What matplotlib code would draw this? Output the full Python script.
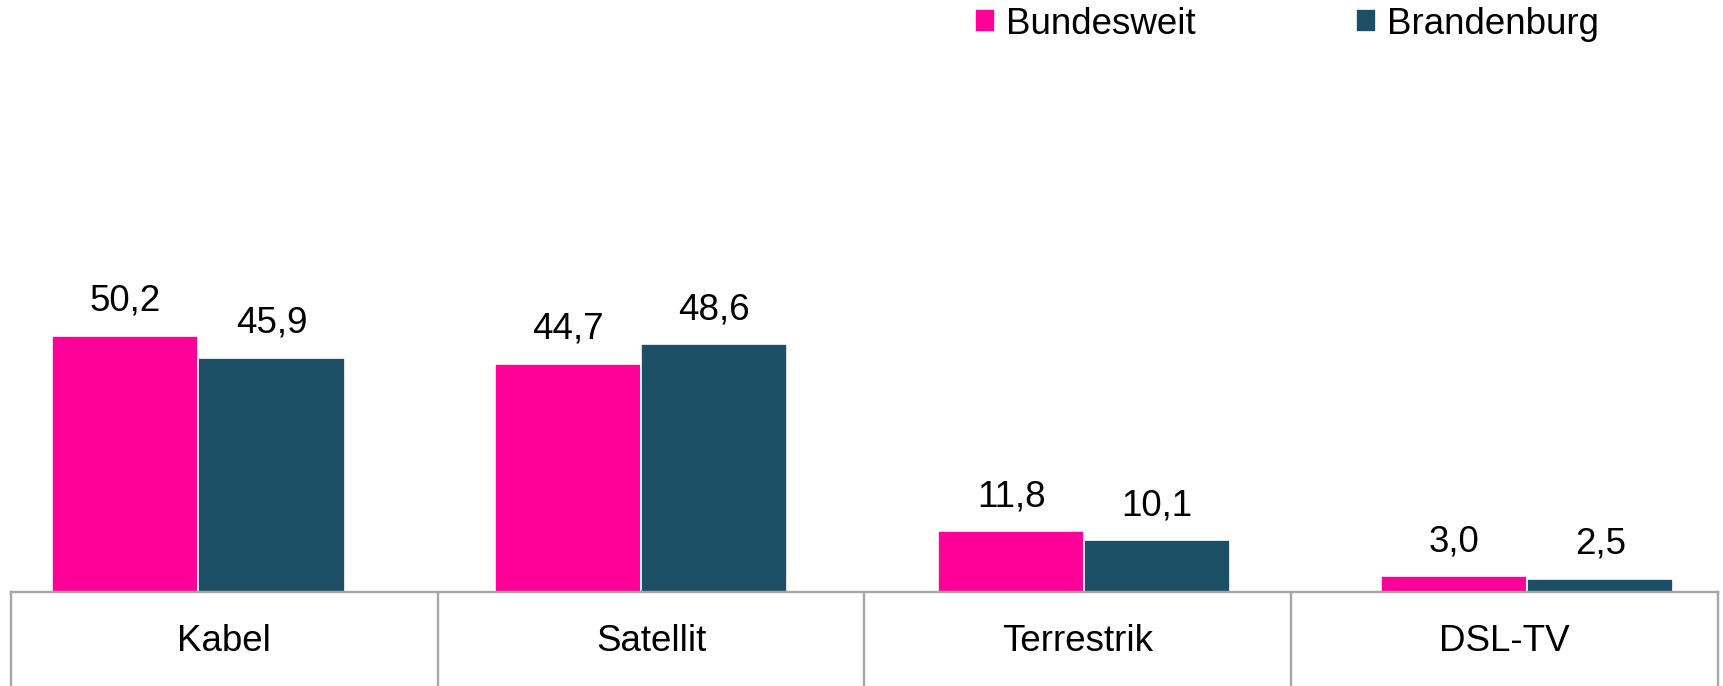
import matplotlib.pyplot as plt
import numpy as np

plt.rcParams["font.family"] = ["Liberation Sans", "DejaVu Sans"]

categories = ["Kabel", "Satellit", "Terrestrik", "DSL-TV"]
bundesweit = [50.2, 44.7, 11.8, 3.0]
brandenburg = [45.9, 48.6, 10.1, 2.5]
series_names = ["Bundesweit", "Brandenburg"]

PINK = "#ff0099"
TEAL = "#1c4f66"
GRID = "#a6a6a6"
FS = 26.5

W, H = 1724, 686
fig = plt.figure(figsize=(W / 100, H / 100), dpi=100)

# plot area in pixels (from top-left)
left_px, right_px = 11, 1718
base_px, top_px = 591.5, 60
ax = fig.add_axes([left_px / W, 1 - base_px / H,
                   (right_px - left_px) / W, (base_px - top_px) / H])

x = np.arange(len(categories))
bw = 0.33
b1 = ax.bar(x - bw / 2, bundesweit, bw, color=PINK, edgecolor="white",
            linewidth=1.2, label=series_names[0])
b2 = ax.bar(x + bw / 2, brandenburg, bw, color=TEAL, edgecolor="white",
            linewidth=1.2, label=series_names[1])

for bars, vals in ((b1, bundesweit), (b2, brandenburg)):
    for rect, v in zip(bars, vals):
        ax.annotate(f"{v:.1f}".replace(".", ","),
                    xy=(rect.get_x() + rect.get_width() / 2, v),
                    xytext=(0, 18), textcoords="offset points",
                    ha="center", va="baseline", fontsize=FS)

ax.set_xlim(-0.423, 3.431)
ax.set_ylim(0, (base_px - top_px) / 5.09)
ax.axis("off")

# category table below the baseline
tab = fig.add_axes([left_px / W, 0, (right_px - left_px) / W, 1 - base_px / H])
tab.set_xlim(0, len(categories))
tab.set_ylim(0, 1)
tab.set_xticks([])
tab.set_yticks([])
for side in ("left", "right", "top"):
    tab.spines[side].set_color(GRID)
    tab.spines[side].set_linewidth(1.7)
tab.spines["bottom"].set_visible(False)
for i in range(1, len(categories)):
    tab.axvline(i, color=GRID, linewidth=1.7)
for i, c in enumerate(categories):
    tab.text(i + 0.5, 0.47, c, ha="center", va="center", fontsize=FS)

fig.legend(handles=[b1, b2], loc="center left",
           bbox_to_anchor=(975 / W, 1 - 24 / H), ncol=2, frameon=False,
           fontsize=FS, handlelength=0.54, handleheight=0.56,
           handletextpad=0.3, columnspacing=4.35, borderpad=0,
           borderaxespad=0)

fig.savefig("out.png", dpi=100)
